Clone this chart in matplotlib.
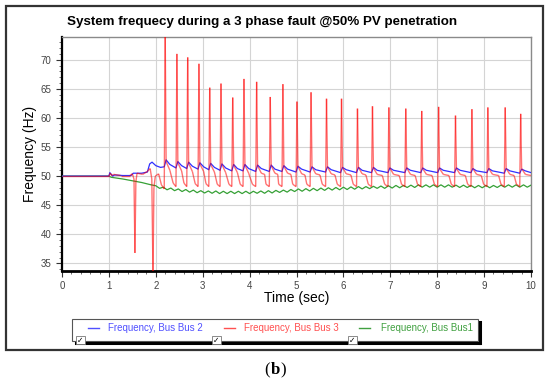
import numpy as np
import matplotlib
matplotlib.use("Agg")
import matplotlib.pyplot as plt
from matplotlib.collections import LineCollection
from matplotlib.patches import Rectangle
from matplotlib.lines import Line2D
from matplotlib.ticker import MultipleLocator

plt.rcParams['font.family'] = ['Liberation Sans', 'DejaVu Sans']

# ---------------- data ----------------
title = "System frequecy during a 3 phase fault @50% PV penetration"
x_label = "Time (sec)"
y_label = "Frequency (Hz)"
legend_labels = ["Frequency, Bus Bus 2", "Frequency, Bus Bus 3", "Frequency, Bus Bus1"]
x_ticks = list(range(0, 11))
y_ticks = [35, 40, 45, 50, 55, 60, 65, 70]

red_t = [0.00, 1.00, 1.03, 1.06, 1.10, 1.25, 1.45, 1.50, 1.535, 1.555, 1.575, 1.60, 1.72, 1.82, 1.88,
         1.915, 1.94, 1.96, 1.99, 2.06, 2.12, 2.18,
         2.20, 2.22, 2.30, 2.37, 2.43,
         2.45, 2.47, 2.55, 2.60, 2.66,
         2.68, 2.70, 2.78, 2.84, 2.90,
         2.92, 2.94, 3.02, 3.07, 3.13,
         3.15, 3.17, 3.25, 3.31, 3.37,
         3.39, 3.41, 3.49, 3.56, 3.62,
         3.64, 3.66, 3.74, 3.80, 3.86,
         3.88, 3.90, 3.98, 4.06, 4.13,
         4.15, 4.17, 4.25, 4.32, 4.35, 4.42,
         4.44, 4.46, 4.54, 4.60, 4.62, 4.69,
         4.71, 4.73, 4.81, 4.88, 4.92, 4.99,
         5.01, 5.03, 5.11, 5.18, 5.22, 5.29,
         5.31, 5.33, 5.41, 5.50, 5.55, 5.62,
         5.64, 5.66, 5.74, 5.82, 5.87, 5.94,
         5.96, 5.98, 6.06, 6.16, 6.21, 6.28,
         6.30, 6.32, 6.40, 6.48, 6.53, 6.60,
         6.62, 6.64, 6.72, 6.83, 6.88, 6.95,
         6.97, 6.99, 7.07, 7.19, 7.24, 7.31,
         7.33, 7.35, 7.43, 7.53, 7.58, 7.65,
         7.67, 7.69, 7.77, 7.89, 7.94, 8.01,
         8.03, 8.05, 8.13, 8.25, 8.30, 8.37,
         8.39, 8.41, 8.49, 8.60, 8.65, 8.72,
         8.74, 8.76, 8.84, 8.94, 8.99, 9.06,
         9.08, 9.10, 9.18, 9.31, 9.36, 9.43,
         9.45, 9.47, 9.55, 9.64, 9.69, 9.76,
         9.78, 9.80, 9.88, 10.00]
red_f = [50.0, 50.0, 50.5, 50.1, 50.3, 50.1, 50.1, 50.4, 49.5, 36.8, 49.0, 50.5, 50.3, 50.8, 51.3,
         49.5, 33.0, 48.0, 50.0, 50.4, 48.5, 47.8,
         75.0, 52.5, 51.0, 48.8, 48.2,
         71.0, 52.3, 50.9, 48.8, 48.2,
         70.4, 52.2, 50.8, 48.7, 48.2,
         69.3, 52.1, 50.8, 48.7, 48.2,
         65.2, 52.0, 50.7, 48.6, 48.2,
         65.9, 52.0, 50.6, 48.6, 48.2,
         63.5, 51.9, 50.6, 48.6, 48.2,
         66.7, 51.9, 50.5, 48.6, 48.2,
         66.2, 51.8, 50.5, 50.3, 48.6, 48.2,
         63.6, 51.8, 50.5, 50.3, 48.6, 48.2,
         65.8, 51.7, 50.5, 50.3, 48.6, 48.2,
         62.8, 51.7, 50.4, 50.2, 48.6, 48.2,
         64.4, 51.6, 50.4, 50.2, 48.6, 48.2,
         63.3, 51.6, 50.4, 50.2, 48.6, 48.2,
         63.3, 51.5, 50.4, 50.2, 48.6, 48.2,
         61.6, 51.5, 50.4, 50.2, 48.6, 48.2,
         62.0, 51.4, 50.3, 50.1, 48.6, 48.2,
         61.8, 51.4, 50.3, 50.1, 48.6, 48.2,
         61.6, 51.4, 50.3, 50.1, 48.6, 48.2,
         61.2, 51.3, 50.3, 50.1, 48.6, 48.2,
         61.9, 51.3, 50.3, 50.1, 48.6, 48.2,
         60.4, 51.3, 50.3, 50.1, 48.6, 48.2,
         61.5, 51.3, 50.3, 50.1, 48.6, 48.2,
         61.8, 51.3, 50.3, 50.1, 48.6, 48.2,
         61.8, 51.3, 50.3, 50.1, 48.6, 48.2,
         60.7, 51.3, 50.3, 50.1]

blue_t = [0.00, 1.00, 1.02, 1.05, 1.08, 1.12, 1.30, 1.47, 1.52, 1.70, 1.82, 1.87, 1.92, 2.00, 2.10,
          2.18, 2.22, 2.30, 2.43, 2.47, 2.55, 2.66, 2.70, 2.78, 2.90, 2.94, 3.02, 3.13, 3.17, 3.25,
          3.37, 3.41, 3.49, 3.62, 3.66, 3.74, 3.86, 3.90, 3.98, 4.13, 4.17, 4.25, 4.42, 4.46, 4.54,
          4.69, 4.73, 4.81, 4.99, 5.03, 5.11, 5.29, 5.33, 5.41, 5.62, 5.66, 5.74, 5.94, 5.98, 6.06,
          6.28, 6.32, 6.40, 6.60, 6.64, 6.72, 6.95, 6.99, 7.07, 7.31, 7.35, 7.43, 7.65, 7.69, 7.77,
          8.01, 8.05, 8.13, 8.37, 8.41, 8.49, 8.72, 8.76, 8.84, 9.06, 9.10, 9.18, 9.43, 9.47, 9.55,
          9.76, 9.80, 9.88, 10.00]
blue_f = [50.0, 50.0, 50.6, 50.3, 50.0, 50.2, 50.1, 50.1, 50.5, 50.5, 50.7, 52.1, 52.4, 51.8, 51.5,
          51.6, 52.8, 52.0, 51.4, 52.5, 51.8, 51.3, 52.4, 51.7, 51.2, 52.3, 51.6, 51.1, 52.2, 51.5,
          51.0, 52.1, 51.4, 50.9, 52.0, 51.3, 50.9, 52.0, 51.3, 50.8, 51.9, 51.3, 50.8, 51.9, 51.2,
          50.8, 51.8, 51.2, 50.7, 51.7, 51.2, 50.7, 51.6, 51.1, 50.7, 51.6, 51.1, 50.6, 51.5, 51.1,
          50.6, 51.5, 51.0, 50.6, 51.5, 51.0, 50.6, 51.4, 51.0, 50.6, 51.4, 51.0, 50.6, 51.4, 51.0,
          50.6, 51.4, 51.0, 50.6, 51.4, 51.0, 50.6, 51.3, 50.9, 50.6, 51.3, 50.9, 50.5, 51.3, 50.9,
          50.5, 51.2, 50.9, 50.6]

green_t = [0.0, 1.0, 1.05, 1.3, 1.5, 1.7, 1.9] + [round(2.0 + 0.08 * k, 2) for k in range(101)]
green_f = [50.0, 50.0, 49.8, 49.5, 49.2, 48.9, 48.5,
           48.35, 47.90, 48.10, 47.65, 47.95, 47.50, 47.80, 47.35, 47.70, 47.25,
           47.60, 47.15, 47.50, 47.10, 47.45, 47.05, 47.45, 47.00, 47.40, 47.00,
           47.40, 47.00, 47.40, 47.00, 47.40, 47.00, 47.40, 47.05, 47.45, 47.05,
           47.50, 47.10, 47.55, 47.20, 47.60, 47.25, 47.70, 47.35, 47.80, 47.40,
           47.85, 47.45, 47.90, 47.50, 47.95, 47.55, 48.00, 47.60, 48.05, 47.65,
           48.10, 47.70, 48.15, 47.75, 48.20, 47.80, 48.20, 47.85, 48.25, 47.90,
           48.30, 47.90, 48.35, 47.95, 48.40, 48.00, 48.40, 48.05, 48.45, 48.05,
           48.50, 48.10, 48.50, 48.10, 48.50, 48.10, 48.50, 48.10, 48.50, 48.10,
           48.45, 48.05, 48.45, 48.05, 48.40, 48.00, 48.40, 48.00, 48.40, 48.00,
           48.40, 48.05, 48.45, 48.10, 48.50, 48.10, 48.50, 48.10, 48.50, 48.10,
           48.45]

# ---------------- styles ----------------
c_blue = '#3030ff'
c_red = '#ff0000'
c_green = '#35a035'

fig = plt.figure(figsize=(5.5, 3.82), dpi=100)
fig.patch.set_facecolor('white')

# outer frame
fig.add_artist(Rectangle((6/550, 1-350/382), 537/550, 344/382, transform=fig.transFigure,
                         fill=False, edgecolor='#333333', lw=1.6))

ax = fig.add_axes([62/550, 1-271/382, 469/550, 234/382])
ax.set_xlim(0, 10)
ax.set_ylim(33.7, 73.9)

ax.plot(green_t, green_f, color=c_green, lw=0.9, zorder=3)
ax.plot(blue_t, blue_f, color=c_blue, lw=0.9, zorder=4)
pts = np.column_stack([red_t, red_f])
segs = np.stack([pts[:-1], pts[1:]], axis=1)
ax.add_collection(LineCollection(segs, colors=[c_red], linewidths=1.0, alpha=0.55, zorder=5))

ax.set_xticks(x_ticks)
ax.set_yticks(y_ticks)
ax.xaxis.set_minor_locator(MultipleLocator(0.2))
ax.yaxis.set_minor_locator(MultipleLocator(1))
ax.grid(True, which='major', color='#d4d4d4', lw=0.8)
ax.set_axisbelow(True)
ax.tick_params(axis='both', which='major', labelsize=7, colors='#333333', length=4, width=0.8,
               labelcolor='#444444')
ax.tick_params(axis='both', which='minor', length=2, width=0.6, colors='#555555')
ax.spines['left'].set_linewidth(1.6)
ax.spines['bottom'].set_linewidth(2.0)
ax.spines['left'].set_color('black')
ax.spines['bottom'].set_color('black')
for s in ('top', 'right'):
    ax.spines[s].set_color('#8a8a8a')
    ax.spines[s].set_linewidth(1.0)

ax.set_xlabel(x_label, fontsize=10, labelpad=0)
ax.set_ylabel(y_label, fontsize=10, labelpad=3)
fig.text(262/550, 1-22/382, title, ha='center', va='center', fontsize=9.65, fontweight='bold')

# legend box (drawn manually like the original widget)
lx0, ly0, lx1, ly1 = 72, 319, 478, 341
fig.add_artist(Rectangle((lx0/550, 1-ly1/382), (lx1-lx0)/550, (ly1-ly0)/382,
                         transform=fig.transFigure, facecolor='white', edgecolor='#555555', lw=0.8))
fig.add_artist(Line2D([lx0/550 + 4/550, lx1/550 + 1/550], [1-(ly1+1.5)/382]*2,
                      transform=fig.transFigure, color='black', lw=2.2))
fig.add_artist(Line2D([(lx1+1.5)/550]*2, [1-(ly0+3)/382, 1-(ly1+1.5)/382],
                      transform=fig.transFigure, color='black', lw=2.2))
handle_x = [88, 224, 359]
text_x = [108, 244, 381]
box_x = [76, 212, 348]
leg_colors = ['#5050ff', '#ff5050', '#40a040']
for hx, tx, bx, lab, col in zip(handle_x, text_x, box_x, legend_labels, leg_colors):
    fig.add_artist(Line2D([hx/550, (hx+11)/550], [1-328/382]*2, transform=fig.transFigure,
                          color=col, lw=1.0))
    fig.text(tx/550, 1-328/382, lab, color=col, fontsize=7, ha='left', va='center')
    fig.add_artist(Rectangle((bx/550, 1-344/382), 9/550, 8/382, transform=fig.transFigure,
                             facecolor='white', edgecolor='#777777', lw=0.6, zorder=6))
    fig.text((bx+4.5)/550, 1-340/382, '\u2713', fontsize=5.5, ha='center', va='center',
             family=['DejaVu Sans'], color='black', zorder=7)

# caption "(b)" with a bold b
fig.text(267/550, 1-370/382, '(', fontsize=12, ha='center', va='center', family=['Liberation Serif'])
fig.text(275/550, 1-370/382, 'b', fontsize=12, ha='center', va='center', family=['Liberation Serif'],
         fontweight='bold')
fig.text(283/550, 1-370/382, ')', fontsize=12, ha='center', va='center', family=['Liberation Serif'])

fig.savefig('out.png', dpi=100)
